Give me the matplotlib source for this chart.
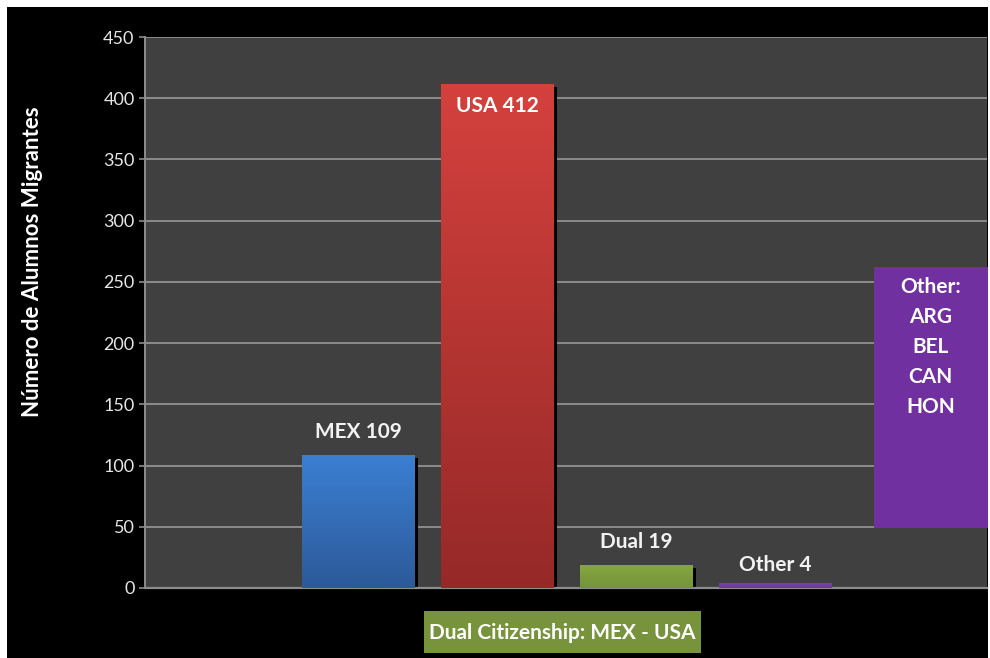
import numpy as np
import matplotlib.pyplot as plt
import matplotlib.patheffects as pe
from matplotlib.patches import Rectangle
from matplotlib.colors import LinearSegmentedColormap

plt.rcParams['font.family'] = ['Lato', 'DejaVu Sans']

# data
positions = [1, 2, 3, 4]
labels = ['MEX 109', 'USA 412', 'Dual 19', 'Other 4']
values = [109, 412, 19, 4]
top_colors = ['#3b7fd3', '#d4413d', '#86a83f', '#7442a8']
bottom_colors = ['#2c5a99', '#962928', '#76933b', '#6a3a9c']
other_list = ['Other:', 'ARG', 'BEL', 'CAN', 'HON']
yticks = [0, 50, 100, 150, 200, 250, 300, 350, 400, 450]

fig = plt.figure(figsize=(9.9, 6.58), dpi=100, facecolor='white')
# black panel behind everything
fig.patches.append(Rectangle((7 / 990, 0), 981 / 990, 651 / 658, transform=fig.transFigure,
                             facecolor='black', edgecolor='none', zorder=-10))
# green note box
fig.patches.append(Rectangle((424 / 990, 5 / 658), 277 / 990, 42 / 658, transform=fig.transFigure,
                             facecolor='#77933c', edgecolor='none', zorder=-5))

ax = fig.add_axes([145 / 990, 70 / 658, 842 / 990, 551 / 658])
ax.set_facecolor('#404040')
ax.set_axisbelow(True)

width = 0.81
bars = ax.bar(positions, values, width=width, color=bottom_colors, zorder=2,
              path_effects=[pe.SimplePatchShadow(offset=(2.6, -2.6), shadow_rgbFace='black', alpha=1.0),
                            pe.Normal()])

# vertical gradient on each bar
for b, c1, c2 in zip(bars, top_colors, bottom_colors):
    cmap = LinearSegmentedColormap.from_list('g', [c2, c1])
    grad = np.linspace(0, 1, 100).reshape(-1, 1)
    x0 = b.get_x()
    h = b.get_height()
    im = ax.imshow(grad, cmap=cmap, origin='lower', aspect='auto', zorder=3,
                   extent=[x0, x0 + b.get_width(), 0, h])
    im.set_clip_path(b)

ax.set_xlim(-0.532, 5.525)
ax.set_ylim(0, 450)

# bar labels
label_y = [119, None, 29, 10.5]
for p, lab, v, ly in zip(positions, labels, values, label_y):
    if ly is None:
        ax.text(p, v - 10, lab, ha='center', va='top', color='white', fontsize=15, fontweight='bold', zorder=5)
    else:
        ax.text(p, ly, lab, ha='center', va='bottom', color='#f2f2f2', fontsize=15, fontweight='bold', zorder=5)

ax.set_yticks(yticks)
ax.tick_params(axis='y', colors='#8c8c8c', labelcolor='#e6e6e6', labelsize=13, length=4, width=1.2)
ax.set_xticks([])
ax.grid(axis='y', color='#8c8c8c', linewidth=1.4)
for s in ['top', 'right']:
    ax.spines[s].set_visible(False)
ax.spines['left'].set_color('#8c8c8c')
ax.spines['left'].set_linewidth(1.4)
ax.spines['bottom'].set_color('#8c8c8c')
ax.spines['bottom'].set_linewidth(1.6)

# purple box with the other countries
ax.add_patch(Rectangle((4.713, 49), 0.82, 213, facecolor='#7030a0', edgecolor='none', zorder=6,
                       clip_on=False))
ax.text(5.12, 254, '\n'.join(other_list), ha='center', va='top', color='white', fontsize=15,
        fontweight='bold', linespacing=1.62, zorder=7)

# y label
fig.text(33 / 990, 1 - 262 / 658, 'Número de Alumnos Migrantes', rotation=90, ha='center', va='center',
         color='white', fontsize=16, fontweight='bold')

fig.text(562 / 990, 1 - 633 / 658, 'Dual Citizenship: MEX - USA', ha='center', va='center', color='white',
         fontsize=15, fontweight='bold')

fig.savefig('out.png', dpi=100, facecolor='white')
